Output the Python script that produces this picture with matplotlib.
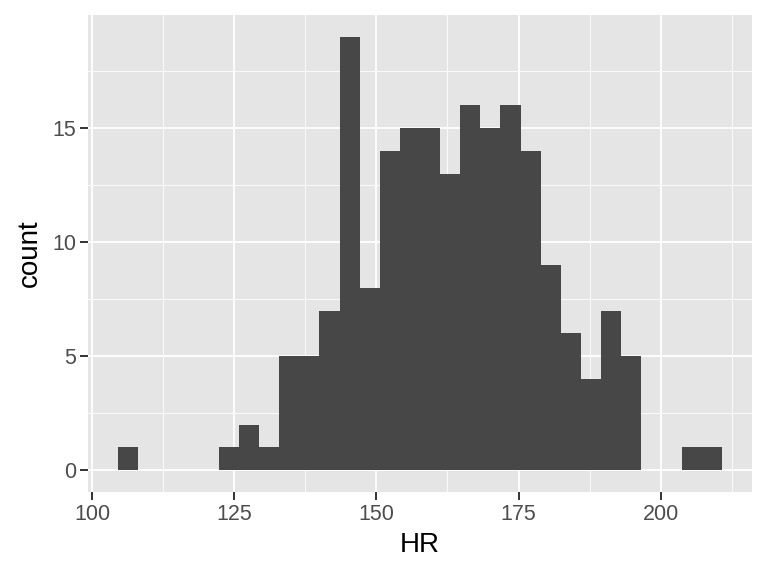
import numpy as np
import matplotlib
matplotlib.use("Agg")
import matplotlib.pyplot as plt

# histogram of HR, 30 bins
bin_start = 104.57
bin_width = 3.54
counts = [1, 0, 0, 0, 0, 1, 2, 1, 5, 5,
          7, 19, 8, 14, 15, 15, 13, 16, 15, 16,
          14, 9, 6, 4, 7, 5, 0, 0, 1, 1]
x_ticks = [100, 125, 150, 175, 200]
y_ticks = [0, 5, 10, 15]

plt.rcParams["font.family"] = ["Liberation Sans", "DejaVu Sans"]

edges = bin_start + bin_width * np.arange(len(counts) + 1)

fig = plt.figure(figsize=(7.68, 5.76), dpi=100)
ax = fig.add_axes([88 / 768, 1 - 492 / 576, (752 - 88) / 768, (492 - 15) / 576])
ax.set_facecolor("#E5E5E5")

lo, hi = edges[0], edges[-1]
pad = 0.05 * (hi - lo)
ax.set_xlim(lo - pad, hi + pad)
ymax = max(counts)
ax.set_ylim(-0.05 * ymax, ymax * 1.05)

# grid, ggplot style
for v in x_ticks:
    ax.axvline(v, color="white", lw=1.3, zorder=0)
for v in np.array(x_ticks) + 12.5:
    ax.axvline(v, color="white", lw=0.6, zorder=0)
for v in y_ticks:
    ax.axhline(v, color="white", lw=1.3, zorder=0)
for v in np.array(y_ticks) + 2.5:
    ax.axhline(v, color="white", lw=0.6, zorder=0)

ax.bar(edges[:-1], counts, width=bin_width, align="edge",
       color="#474747", linewidth=0, zorder=2)

ax.set_xticks(x_ticks)
ax.set_yticks(y_ticks)
for s in ax.spines.values():
    s.set_visible(False)
ax.tick_params(length=5.5, width=1.4, color="#333333", labelcolor="#4D4D4D",
               labelsize=15.5, pad=3)
ax.set_xlabel("HR", fontsize=20, color="black", labelpad=5)
ax.set_ylabel("count", fontsize=20, color="black", labelpad=7)

fig.savefig("out.png", dpi=100)
